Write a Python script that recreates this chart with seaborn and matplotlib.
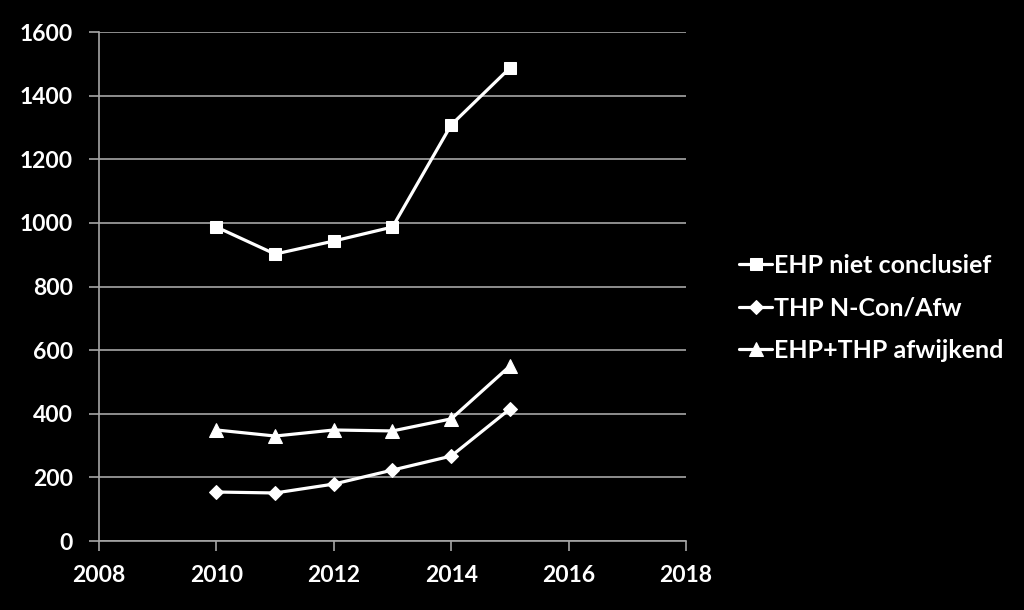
import matplotlib
matplotlib.use("Agg")
import matplotlib.pyplot as plt
import seaborn as sns
import pandas as pd

years = [2010, 2011, 2012, 2013, 2014, 2015]
ehp_niet_conclusief = [987, 902, 943, 987, 1308, 1487]
thp_ncon_afw = [154, 151, 179, 223, 267, 415]
ehp_thp_afwijkend = [349, 330, 349, 346, 384, 550]
series_names = ["EHP niet conclusief", "THP N-Con/Afw", "EHP+THP afwijkend"]
x_ticks = [2008, 2010, 2012, 2014, 2016, 2018]
y_ticks = [0, 200, 400, 600, 800, 1000, 1200, 1400, 1600]

sns.set_style("dark")
plt.rcParams["font.family"] = ["Lato", "DejaVu Sans"]
plt.rcParams["font.weight"] = "bold"

df = pd.DataFrame({
    "year": years * 3,
    "value": ehp_niet_conclusief + thp_ncon_afw + ehp_thp_afwijkend,
    "series": [series_names[0]] * 6 + [series_names[1]] * 6 + [series_names[2]] * 6,
})

fig = plt.figure(figsize=(10.24, 6.10), dpi=100, facecolor="black")
ax = fig.add_axes([0.0967, 0.1131, 0.5732, 0.8344])
ax.set_facecolor("black")

markers = {series_names[0]: "s", series_names[1]: "D", series_names[2]: "^"}
sizes = {series_names[0]: 9, series_names[1]: 7, series_names[2]: 10}
for name in series_names:
    sub = df[df["series"] == name]
    sns.lineplot(data=sub, x="year", y="value", ax=ax, color="white",
                 linewidth=2.3, marker=markers[name], markersize=sizes[name],
                 markeredgecolor="white", markerfacecolor="white", label=name)

ax.set_xlim(2008, 2018)
ax.set_ylim(0, 1600)
ax.set_xticks(x_ticks)
ax.set_yticks(y_ticks)
ax.set_xlabel("")
ax.set_ylabel("")
ax.grid(False)
ax.yaxis.grid(True, color="#a6a6a6", linewidth=1.2)
ax.set_axisbelow(True)
for s in ["top", "right"]:
    ax.spines[s].set_visible(False)
for s in ["left", "bottom"]:
    ax.spines[s].set_visible(True)
    ax.spines[s].set_color("#a6a6a6")
    ax.spines[s].set_linewidth(1.2)
ax.tick_params(axis="both", colors="#a6a6a6", length=7, width=1.2, direction="out",
               labelcolor="white", labelsize=16.5, left=True, bottom=True)
for lbl in ax.get_xticklabels() + ax.get_yticklabels():
    lbl.set_fontweight("bold")
ax.tick_params(axis="y", pad=12)
ax.tick_params(axis="x", pad=10)

ax.get_legend().remove()
handles, labels = ax.get_legend_handles_labels()
leg = fig.legend(handles, labels, loc="center left", bbox_to_anchor=(0.700, 0.495),
                 frameon=False, handlelength=1.3, handletextpad=0.1,
                 labelspacing=0.78, prop={"weight": "bold", "size": 18})
for t in leg.get_texts():
    t.set_color("white")

fig.savefig("out.png", dpi=100, facecolor="black")
